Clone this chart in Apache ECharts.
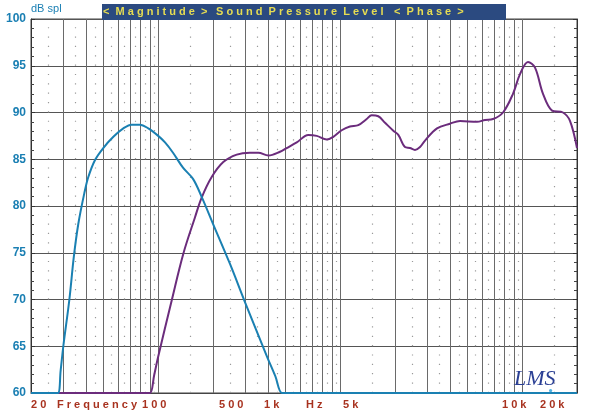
<!DOCTYPE html>
<html><head><meta charset="utf-8">
<script src="https://cdn.jsdelivr.net/npm/echarts@6/dist/echarts.min.js"></script>
<style>html,body{margin:0;padding:0;background:#fff}#c{width:600px;height:411px}</style>
</head><body><div id="c"></div>
<script>
// ---- data ----
const freqMagnitude = [20, 24, 26, 28.1, 29.1, 30.1, 32.5, 34.4, 36.4, 39.3, 41.3, 44.9, 49.9, 56.7, 64.3, 71.5, 79.4, 88.2, 100, 109, 120.6, 136.8, 155.3, 174, 200, 248, 300, 396, 440, 479, 520, 600, 800, 1200, 2000, 4000, 8000, 14000, 20000];
const dbMagnitude   = [60, 60, 60, 60, 62.4, 65, 70, 74.6, 78.1, 81.4, 83.1, 84.9, 86.2, 87.4, 88.3, 88.7, 88.7, 88.3, 87.5, 86.8, 85.7, 84.1, 82.9, 80.9, 78.1, 73.8, 69.7, 63.9, 61.8, 60, 60, 60, 60, 60, 60, 60, 60, 60, 60];

const freqPhase = [20, 40, 60, 75, 84, 90.1, 95, 100, 118.6, 137.4, 159.3, 173.3, 196.7, 227.8, 270, 319, 355, 403, 467, 508, 577, 668, 743, 843, 916, 1019, 1131, 1257, 1398, 1489, 1619, 1763, 1958, 2086, 2269, 2418, 2576, 2745, 2924, 3403, 4012, 4552, 5645, 6246, 6910, 7842, 8898, 9724, 10760, 11757, 13010, 14580, 16750, 18300, 20000];
const dbPhase   = [60, 60, 60, 60, 60, 60, 61.9, 63.9, 69.9, 74.9, 78.8, 80.9, 83.1, 84.7, 85.5, 85.7, 85.7, 85.4, 85.8, 86.2, 86.8, 87.6, 87.5, 87.1, 87.4, 88.1, 88.5, 88.65, 89.3, 89.7, 89.6, 88.9, 88.05, 87.6, 86.3, 86.2, 86.0, 86.3, 87.0, 88.3, 88.8, 89.1, 89.0, 89.2, 89.3, 90.0, 92.0, 94.1, 95.4, 94.8, 92.0, 90.2, 90.0, 89.1, 86.2];

const solidGridFreqs  = [30, 40, 50, 60, 70, 80, 90, 100, 200, 300, 400, 500, 600, 700, 800, 900, 1000, 2000, 3000, 4000, 5000, 6000, 7000, 8000, 9000, 10000];
const dottedGridFreqs = [25, 35, 45, 55, 65, 75, 85, 95, 150, 250, 350, 450, 550, 650, 750, 850, 950, 1500, 2500, 3500, 4500, 5500, 6500, 7500, 8500, 9500, 15000];

const xTickLabels = ['2 0', 'F r e q u e n c y', '1 0 0', '5 0 0', '1 k', 'H z', '5 k', '1 0 k', '2 0 k'];
const xTickLabelLeft = [31, 57, 142, 219, 264, 306, 343, 502, 540];
const titleParts = ['<  M a g n i t u d e  >', 'S o u n d  P r e s s u r e  L e v e l', '<  P h a s e  >'];
const titlePartLeft = [103, 216, 394];
const yUnit = 'dB spl';
const yMin = 60, yMax = 100, yStep = 5;

// ---- chart ----
const chart = echarts.init(document.getElementById('c'), null, {renderer: 'canvas'});
const FONT = '"Liberation Sans", Arial, sans-serif';
const GRID = {left: 31, top: 19, right: 23, bottom: 18};

function vLine(f, from, to, style) { return [{coord: [f, from], lineStyle: style}, {coord: [f, to]}]; }

const graphics = [];
graphics.push({type: 'rect', left: 102, top: 4, shape: {width: 404, height: 16}, style: {fill: '#2b4a80'}, z: 10});
titleParts.forEach((t, i) => graphics.push({
  type: 'text', left: titlePartLeft[i], top: 6, z: 11,
  style: {text: t, fill: '#e6dc52', font: 'bold 11px ' + FONT}
}));
graphics.push({type: 'text', left: 31, top: 3, style: {text: yUnit, fill: '#1a7fb3', font: '11px ' + FONT}});
xTickLabels.forEach((t, i) => graphics.push({
  type: 'text', left: xTickLabelLeft[i], top: 399,
  style: {text: t, fill: '#a8321f', font: 'bold 11px ' + FONT}
}));
graphics.push({type: 'text', left: 514, top: 368, z: 12,
  style: {text: 'LMS', fill: '#2a3f94', font: 'italic 22px "Liberation Serif", serif'}});
graphics.push({type: 'circle', left: 549, top: 389, shape: {r: 1.6}, style: {fill: '#4fb0e0'}, z: 12});

const solidStyle = {color: '#6a6a6a', width: 1, type: 'solid'};
const dotStyle = {color: '#9a9a9a', width: 1.2, type: [1.2, 8.15]};

const option = {
  animation: false,
  backgroundColor: '#ffffff',
  grid: Object.assign({show: true, borderColor: '#444', borderWidth: 1, backgroundColor: 'transparent'}, GRID),
  xAxis: {
    type: 'log', logBase: 10, min: 20, max: 20000,
    axisLine: {show: true, lineStyle: {color: '#444', width: 1}},
    axisTick: {show: false}, axisLabel: {show: false}, splitLine: {show: false}
  },
  yAxis: [{
    type: 'value', min: yMin, max: yMax, interval: yStep, position: 'left',
    axisLine: {show: true, lineStyle: {color: '#333', width: 1}},
    axisTick: {show: true, inside: true, length: 4, lineStyle: {color: '#333'}},
    minorTick: {show: true, splitNumber: 5, length: 3, lineStyle: {color: '#444'}},
    axisLabel: {color: '#1a7fb3', fontWeight: 'bold', fontSize: 12, fontFamily: FONT, margin: 5},
    splitLine: {show: true, lineStyle: {color: '#555', width: 1}}
  }, {
    type: 'value', min: yMin, max: yMax, interval: yStep, position: 'right',
    axisLine: {show: true, lineStyle: {color: '#333', width: 1}},
    axisTick: {show: true, inside: true, length: 4, lineStyle: {color: '#333'}},
    minorTick: {show: true, splitNumber: 5, length: 3, lineStyle: {color: '#444'}},
    axisLabel: {show: false}, splitLine: {show: false}
  }],
  series: [{
    name: 'grid', type: 'line', data: [[20, 60]], symbol: 'none', silent: true, z: 1,
    lineStyle: {opacity: 0},
    markLine: {
      silent: true, symbol: ['none', 'none'], z: 1, animation: false,
      label: {show: false}, emphasis: {disabled: true},
      data: solidGridFreqs.map(f => vLine(f, yMin, yMax, solidStyle))
        .concat(dottedGridFreqs.map(f => vLine(f, yMin, yMax, dotStyle)))
    }
  }, {
    name: 'Phase', type: 'line', data: freqPhase.map((f, i) => [f, dbPhase[i]]),
    symbol: 'none', smooth: 0.35, clip: false, z: 3,
    lineStyle: {color: '#6b2c7c', width: 2}
  }, {
    name: 'Magnitude', type: 'line', data: freqMagnitude.map((f, i) => [f, dbMagnitude[i]]),
    symbol: 'none', smooth: 0.35, clip: false, z: 4,
    lineStyle: {color: '#1a80b2', width: 2}
  }],
  graphic: graphics
};
chart.setOption(option);
</script>
</body></html>
